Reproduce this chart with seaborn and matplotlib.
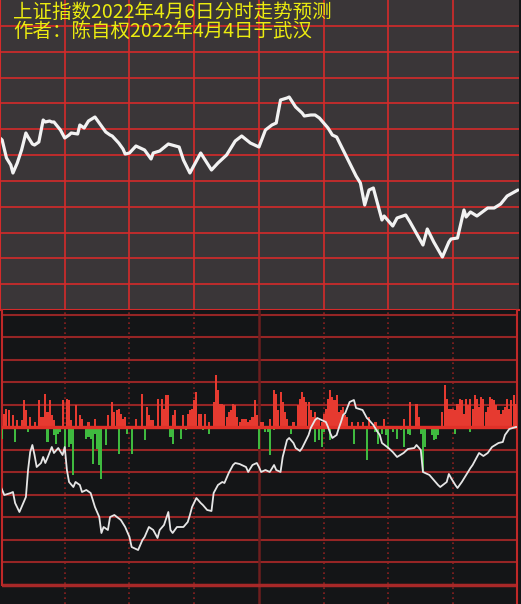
import numpy as np
import pandas as pd
import matplotlib
matplotlib.use("Agg")
import matplotlib.pyplot as plt
import seaborn as sns

# text
title_1 = "上证指数2022年4月6日分时走势预测"
title_2 = "作者：陈自权2022年4月4日于武汉"

# upper panel: forecast curve (minute of session, level)
price_t = [0, 1, 3, 5, 6, 8, 10, 12, 13, 15, 16, 18, 20, 21, 23, 24, 25, 28, 30, 32,
           33, 36, 37, 39, 41, 44, 46, 49, 51, 52, 55, 57, 58, 60, 63, 67, 70, 71, 74, 78,
           83, 85, 88, 93, 98, 101, 105, 109, 112, 116, 120, 123, 126, 128, 130, 133, 134, 137, 140, 141,
           144, 146, 148, 152, 154, 156, 159, 162, 165, 167, 169, 171, 173, 177, 178, 182, 184, 188, 190, 196,
           198, 201, 205, 208, 209, 212, 215, 216, 218, 221, 226, 229, 232, 235, 240]
price_v = [172, 170, 152, 145, 137, 147, 160, 177, 173, 166, 165, 168, 190, 188, 189, 188, 188, 180, 172, 175,
           177, 176, 185, 182, 189, 193, 187, 178, 175, 174, 167, 161, 156, 157, 164, 160, 151, 157, 159, 166,
           163, 150, 137, 157, 140, 147, 155, 169, 174, 167, 163, 180, 185, 187, 210, 212, 213, 203, 197, 194,
           195, 195, 192, 182, 175, 173, 160, 147, 134, 127, 105, 120, 122, 90, 94, 84, 92, 95, 88, 65,
           81, 68, 53, 68, 71, 72, 100, 93, 98, 94, 102, 102, 106, 114, 120]

# lower panel: cumulative line (minute, value)
flow_t = [0, 2, 5, 6, 7, 9, 10, 12, 13, 14, 15, 16, 17, 19, 20, 21, 22, 24, 25, 27,
          29, 30, 31, 32, 34, 35, 37, 38, 40, 42, 44, 46, 47, 48, 50, 51, 53, 56, 58, 60,
          61, 64, 66, 67, 69, 71, 73, 74, 76, 78, 79, 80, 82, 85, 87, 88, 89, 91, 93, 94,
          96, 98, 99, 101, 103, 104, 106, 108, 109, 111, 114, 115, 117, 119, 120, 121, 123, 125, 127, 128,
          130, 131, 133, 134, 136, 137, 139, 140, 143, 144, 146, 147, 149, 151, 152, 153, 154, 156, 157, 158,
          159, 160, 162, 164, 165, 168, 170, 171, 173, 175, 176, 177, 180, 182, 184, 187, 189, 192, 193, 195,
          196, 199, 203, 204, 207, 208, 209, 211, 212, 214, 216, 218, 219, 221, 222, 224, 226, 228, 231, 233,
          234, 236, 239, 241]
flow_v = [-58, -68, -66, -65, -76, -85, -80, -70, -43, -25, -18, -28, -40, -36, -30, -36, -31, -20, -26, -21,
          -28, -20, -43, -55, -60, -55, -58, -65, -63, -66, -80, -90, -106, -100, -103, -90, -88, -93, -100, -110,
          -120, -123, -113, -110, -100, -103, -111, -103, -98, -85, -103, -106, -100, -100, -95, -88, -80, -71, -76, -78,
          -83, -84, -66, -58, -55, -56, -46, -38, -36, -37, -40, -45, -38, -36, -40, -45, -43, -45, -38, -43,
          -45, -30, -13, -11, -16, -21, -24, -21, -8, -1, 7, 9, 7, 5, 0, -6, -11, -8, -1, 5,
          12, 14, 25, 27, 19, 17, 9, 7, 2, -5, -8, -16, -21, -25, -30, -26, -22, -21, -18, -23,
          -45, -48, -58, -60, -55, -47, -51, -58, -61, -55, -48, -41, -38, -30, -26, -29, -26, -20, -16, -15,
          -8, -2, 0, 0]

# lower panel: buy bars (red) and sell bars (green)
up_t = [2, 3, 4, 6, 8, 10, 11, 12, 14, 16, 18, 19, 20, 21, 22, 23, 24, 25, 29, 31,
        32, 33, 35, 37, 38, 41, 44, 50, 52, 53, 54, 55, 56, 57, 58, 63, 66, 68, 69, 70,
        71, 73, 75, 76, 77, 78, 80, 81, 85, 87, 88, 89, 90, 91, 92, 93, 95, 97, 99, 100,
        101, 102, 103, 104, 105, 106, 107, 108, 109, 110, 111, 112, 113, 114, 115, 116, 117, 118, 119, 121,
        122, 125, 127, 128, 129, 130, 131, 132, 133, 136, 138, 139, 140, 141, 142, 143, 144, 145, 146, 147,
        148, 149, 150, 151, 152, 153, 154, 155, 156, 157, 158, 159, 160, 161, 163, 166, 168, 171, 174, 178,
        187, 190, 193, 194, 205, 206, 207, 208, 209, 210, 211, 212, 213, 214, 215, 216, 217, 218, 219, 220,
        221, 222, 223, 224, 225, 226, 227, 228, 229, 230, 231, 232, 233, 234, 235, 236, 237, 238, 239]
up_v = [13, 18, 17, 12, 7, 7, 27, 17, 10, 5, 27, 10, 10, 33, 15, 27, 12, 7, 27, 28,
        27, 7, 22, 12, 8, 5, 8, 12, 25, 15, 17, 18, 13, 8, 10, 8, 33, 20, 12, 7,
        7, 28, 28, 18, 32, 32, 12, 17, 12, 13, 17, 18, 27, 35, 13, 13, 13, 5, 25, 52,
        37, 23, 23, 22, 10, 15, 17, 23, 22, 10, 5, 8, 8, 8, 5, 7, 10, 27, 12, 5,
        5, 8, 37, 33, 17, 35, 25, 15, 8, 5, 22, 28, 35, 30, 25, 25, 17, 10, 15, 8,
        7, 5, 13, 18, 28, 37, 30, 27, 32, 15, 17, 20, 12, 10, 5, 5, 5, 10, 5, 8,
        8, 25, 23, 10, 15, 42, 28, 18, 18, 18, 17, 23, 28, 27, 13, 28, 22, 28, 18, 32,
        28, 20, 30, 28, 15, 20, 30, 28, 27, 22, 17, 13, 17, 20, 28, 18, 27, 32, 23]
down_t = [1, 7, 13, 22, 25, 26, 27, 28, 30, 32, 33, 34, 40, 41, 42, 43, 44, 45, 46, 47,
          49, 55, 59, 61, 67, 79, 80, 84, 86, 94, 97, 113, 120, 123, 124, 125, 127, 135, 146, 148,
          149, 150, 153, 164, 167, 170, 174, 175, 177, 179, 180, 182, 184, 186, 187, 189, 190, 195, 196, 197,
          200, 201, 202, 203, 211, 218]
down_v = [-12, -15, -5, -15, -8, -17, -7, -5, -22, -20, -17, -48, -12, -10, -12, -37, -7, -22, -38, -52,
          -18, -27, -7, -27, -13, -10, -17, -12, -3, -3, -7, -2, -22, -5, -5, -28, -3, -7, -15, -13,
          -20, -5, -13, -17, -2, -33, -5, -17, -7, -8, -22, -5, -12, -3, -20, -7, -8, -7, -45, -20,
          -8, -13, -12, -8, -7, -5]

price = pd.DataFrame({"t": price_t, "v": price_v})
flow = pd.DataFrame({"t": flow_t, "v": flow_v})

sns.set_style("dark")
plt.rcParams["font.family"] = ["Noto Sans CJK SC", "DejaVu Sans"]

W, H = 521, 604
fig = plt.figure(figsize=(W / 100, H / 100), dpi=100)
fig.patch.set_facecolor("#141517")

# ---- upper panel
ax1 = fig.add_axes([0, 294 / H, 519 / W, 310 / H])
ax1.set_facecolor("#3a3638")
sns.lineplot(data=price, x="t", y="v", ax=ax1, color="#f2f2f2", lw=2.3,
             estimator=None, sort=False)
ax1.set_xlim(0, 240.5)
ax1.set_ylim(0, 310)
ax1.set_xticks(np.arange(30, 240, 30))
ax1.set_yticks(np.linspace(0, 310, 13)[1:-1])
ax1.grid(True, color="#d42a2a", lw=1.2)
ax1.tick_params(length=0, labelbottom=False, labelleft=False)
ax1.set_xlabel("")
ax1.set_ylabel("")
for s in ["top", "right"]:
    ax1.spines[s].set_visible(False)
for s in ["left", "bottom"]:
    ax1.spines[s].set_color("#d42a2a")
    ax1.spines[s].set_linewidth(1.5)

# ---- lower panel
ax2 = fig.add_axes([2 / W, 0, 515 / W, 294 / H])
ax2.set_facecolor("#141517")
ax2.bar(up_t, up_v, width=0.95, color="#e63a30", edgecolor="none", lw=0, zorder=3)
ax2.bar(down_t, down_v, width=0.95, color="#3fba3f", edgecolor="none", lw=0, zorder=3)
ax2.axhline(0, color="#e03028", lw=2.4, zorder=3)
sns.lineplot(data=flow, x="t", y="v", ax=ax2, color="#e6e6e6", lw=1.3,
             estimator=None, sort=False, zorder=4)
ax2.set_xlim(2 / 2.158, 517 / 2.158)
ax2.set_ylim(-177, 117)
ax2.set_yticks(np.arange(-7, 6) * 22.5)
ax2.set_xticks([30, 60, 90, 150, 180, 210])
ax2.grid(True, axis="y", color="#962525", lw=1.5)
ax2.grid(True, axis="x", color="#8a2020", lw=1.2, ls=(0, (1, 2)))
ax2.axvline(120, color="#6e1e1e", lw=1.8, zorder=1)
ax2.axhline(-157.5, color="#a82828", lw=2.5, zorder=2)
ax2.tick_params(length=0, labelbottom=False, labelleft=False)
ax2.set_xlabel("")
ax2.set_ylabel("")
for s in ["top", "bottom"]:
    ax2.spines[s].set_visible(False)
for s in ["left", "right"]:
    ax2.spines[s].set_color("#c02828")
    ax2.spines[s].set_linewidth(1.5)
ax2.spines["left"].set_bounds(-157.5, 117)

# titles
fig.text(13 / W, 1 - 2 / H, title_1, color="#ecec10", fontsize=14,
         va="top", ha="left", zorder=10)
fig.text(13 / W, 1 - 21 / H, title_2, color="#ecec10", fontsize=14,
         va="top", ha="left", zorder=10)

fig.savefig("out.png", dpi=100, facecolor=fig.get_facecolor())
